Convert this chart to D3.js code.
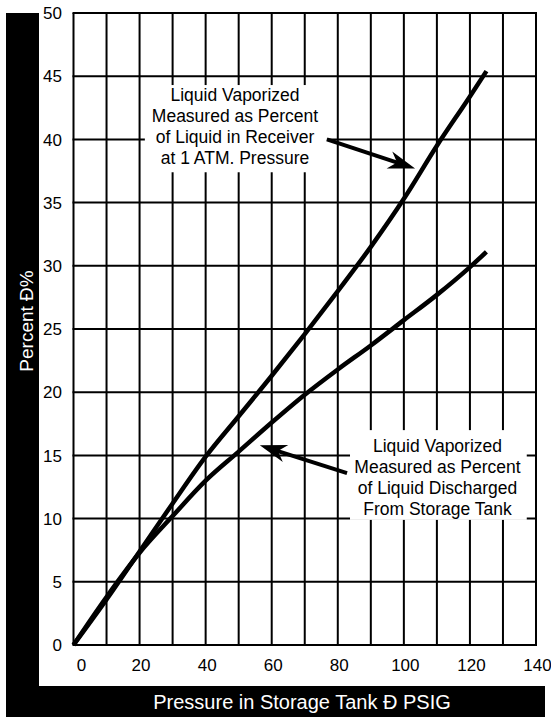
<!DOCTYPE html>
<html>
<head>
<meta charset="utf-8">
<script src="https://cdn.jsdelivr.net/npm/d3@7"></script>
<style>
  body { margin: 0; background: #fff; }
  text { font-family: "Liberation Sans", Arial, sans-serif; }
</style>
</head>
<body>
<div id="container"></div>
<script>
/* DATA */
const pressure = [0, 10, 20, 30, 40, 50, 60, 70, 80, 90, 100, 110, 120, 125];
const receiverPct = [0, 3.6, 7.4, 11.2, 14.9, 18.1, 21.3, 24.6, 28.0, 31.5, 35.3, 39.5, 43.4, 45.4];
const dischargedPct = [0, 3.8, 7.3, 10.2, 13.0, 15.3, 17.6, 19.8, 21.8, 23.7, 25.7, 27.7, 29.9, 31.1];
const xTicks = [0, 20, 40, 60, 80, 100, 120, 140];
const yTicks = [0, 5, 10, 15, 20, 25, 30, 35, 40, 45, 50];
const receiverNote = ["Liquid Vaporized", "Measured as Percent", "of Liquid in Receiver", "at 1 ATM. Pressure"];
const dischargedNote = ["Liquid Vaporized", "Measured as Percent", "of Liquid Discharged", "From Storage Tank"];

/* CONSTANTS */
const width = 551;
const height = 717;

const svg = d3.select("#container")
  .append("svg")
  .attr("width", width)
  .attr("height", height)

svg.append("rect").attr("width", width).attr("height", height).attr("fill", "#fff")

/* SCALES */
const xScale = d3.scaleLinear().domain([0, 140]).range([73.5, 536]);
const yScale = d3.scaleLinear().domain([0, 50]).range([645, 13]);

// black frame bands (left + bottom)
svg.append("rect").attr("x", 6).attr("y", 13).attr("width", 33).attr("height", height - 13).attr("fill", "#000")
svg.append("rect").attr("x", 6).attr("y", 686).attr("width", 539).attr("height", 31).attr("fill", "#000")

// grid
const grid = svg.append("g").attr("stroke", "#000").attr("stroke-width", 2)
grid.selectAll("line.v")
  .data(d3.range(0, 141, 10))
  .join("line")
  .attr("class", "v")
  .attr("x1", d => xScale(d)).attr("x2", d => xScale(d))
  .attr("y1", yScale(0)).attr("y2", yScale(50))
grid.selectAll("line.h")
  .data(yTicks)
  .join("line")
  .attr("class", "h")
  .attr("x1", xScale(0) - 1).attr("x2", xScale(140) + 1)
  .attr("y1", d => yScale(d)).attr("y2", d => yScale(d))

// tick labels
svg.append("g").selectAll("text")
  .data(yTicks)
  .join("text")
  .attr("x", 62)
  .attr("y", d => yScale(d))
  .attr("dy", "0.36em")
  .attr("text-anchor", "end")
  .attr("font-size", 17)
  .text(d => d)

svg.append("g").selectAll("text")
  .data(xTicks)
  .join("text")
  .attr("x", d => xScale(d) + (d === 0 ? 8 : 1.5))
  .attr("y", 671)
  .attr("text-anchor", "middle")
  .attr("font-size", 17)
  .text(d => d)

// annotation boxes (cover grid behind text)
function noteBox(x0, x1, y0, y1) {
  svg.append("rect")
    .attr("x", xScale(x0)).attr("y", yScale(y0))
    .attr("width", xScale(x1) - xScale(x0))
    .attr("height", yScale(y1) - yScale(y0))
    .attr("fill", "#fff")
}
noteBox(21.6, 76.7, 44.3, 37.4)
noteBox(83.7, 137.2, 17.0, 9.9)

// curves
const line = d3.line().x(d => xScale(d[0])).y(d => yScale(d[1])).curve(d3.curveMonotoneX)
svg.append("path")
  .datum(pressure.map((p, i) => [p, receiverPct[i]]))
  .attr("d", line)
  .attr("fill", "none").attr("stroke", "#000").attr("stroke-width", 4.5)
svg.append("path")
  .datum(pressure.map((p, i) => [p, dischargedPct[i]]))
  .attr("d", line)
  .attr("fill", "none").attr("stroke", "#000").attr("stroke-width", 4.5)

// annotation text
function noteText(lines, cx, y0) {
  svg.append("g").selectAll("text")
    .data(lines)
    .join("text")
    .attr("x", cx)
    .attr("y", (d, i) => y0 + i * 21)
    .attr("text-anchor", "middle")
    .attr("font-size", 17.5)
    .text(d => d)
}
noteText(receiverNote, 235, 100.7)
noteText(dischargedNote, 437.5, 451.7)

// arrows
function arrow(from, to) {
  const x1 = xScale(from[0]), y1 = yScale(from[1]);
  const x2 = xScale(to[0]), y2 = yScale(to[1]);
  const ang = Math.atan2(y2 - y1, x2 - x1) * 180 / Math.PI;
  const len = Math.hypot(x2 - x1, y2 - y1);
  const g = svg.append("g").attr("transform", `translate(${x1},${y1}) rotate(${ang})`)
  g.append("line").attr("x1", 0).attr("y1", 0).attr("x2", len - 14).attr("y2", 0)
    .attr("stroke", "#000").attr("stroke-width", 4)
  g.append("path")
    .attr("d", `M${len},0 L${len - 27},-9 L${len - 19},0 L${len - 27},9 Z`)
    .attr("fill", "#000")
}
arrow([76.7, 40.0], [103.4, 37.7])
arrow([82.8, 13.6], [56.4, 15.8])

// axis titles
svg.append("text")
  .attr("x", 302)
  .attr("y", 709)
  .attr("text-anchor", "middle")
  .attr("font-size", 20)
  .attr("fill", "#fff")
  .text("Pressure in Storage Tank Ð PSIG")

svg.append("text")
  .attr("transform", "translate(33,321) rotate(-90)")
  .attr("text-anchor", "middle")
  .attr("font-size", 19)
  .attr("fill", "#fff")
  .text("Percent Ð%")
</script>
</body>
</html>
